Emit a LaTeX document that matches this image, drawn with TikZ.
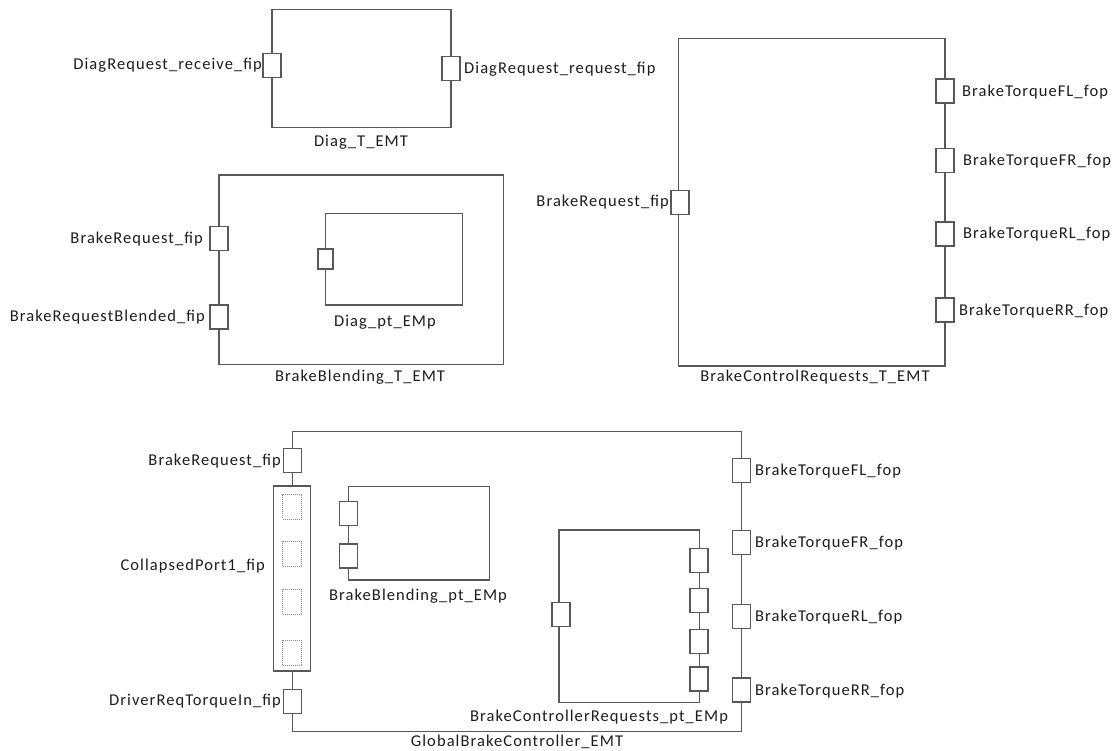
\documentclass[tikz,border=0pt]{standalone}
\usepackage{fontspec}
\setmainfont{Carlito}[LetterSpace=6.5]
\definecolor{lc}{RGB}{88,88,88}
\definecolor{tc}{RGB}{28,28,28}
\begin{document}
\begin{tikzpicture}[x=1pt,y=-1pt,
  box/.style={draw=lc, line width=1.5pt, inner sep=0pt, fill=none},
  port/.style={draw=lc, line width=1.5pt, fill=white, inner sep=0pt, minimum width=18pt, minimum height=24pt},
  sport/.style={port, minimum width=15pt, minimum height=20pt},
  dport/.style={draw=lc!70, densely dotted, line width=1pt, inner sep=0pt, minimum width=19pt, minimum height=25pt},
  lbl/.style={inner sep=1pt, text=tc, font=\fontsize{16.5}{19}\selectfont}
]
\useasboundingbox (0,0) rectangle (1115,751);

% Diag_T_EMT
\node[box, minimum width=179pt, minimum height=118.4pt] (diag) at (361.5,68.5) {};
\node[port] (diagIn) at (272,65.5) {};
\node[port] (diagOut) at (451,68.3) {};
\node[lbl, anchor=east] (diagInL) at (263,65.5) {DiagRequest\_receive\_fip};
\node[lbl, anchor=west] (diagOutL) at (463,69) {DiagRequest\_request\_fip};
\node[lbl] (diagL) at (361,142) {Diag\_T\_EMT};

% BrakeBlending_T_EMT
\node[box, minimum width=284.3pt, minimum height=189.3pt] (bb) at (361.2,269.7) {};
\node[port] (bbIn1) at (219,238.5) {};
\node[port] (bbIn2) at (219,317.2) {};
\node[lbl, anchor=east] (bbIn1L) at (204,239.5) {BrakeRequest\_fip};
\node[lbl, anchor=east] (bbIn2L) at (206,317.5) {BrakeRequestBlended\_fip};
\node[box, minimum width=137.4pt, minimum height=91.7pt] (diagpt) at (394,259.2) {};
\node[sport] (diagptIn) at (325.5,259.2) {};
\node[lbl] (diagptL) at (385,322) {Diag\_pt\_EMp};
\node[lbl] (bbL) at (360,377) {BrakeBlending\_T\_EMT};

% BrakeControlRequests_T_EMT
\node[box, minimum width=266.7pt, minimum height=327.7pt] (bcr) at (811.7,202.2) {};
\node[port] (bcrIn) at (680,202.3) {};
\node[port] (bcrFL) at (945,91) {};
\node[port] (bcrFR) at (945,160.3) {};
\node[port] (bcrRL) at (945,234) {};
\node[port] (bcrRR) at (945,310.2) {};
\node[lbl, anchor=east] (bcrInL) at (670,202) {BrakeRequest\_fip};
\node[lbl, anchor=west] (bcrFLL) at (961,92) {BrakeTorqueFL\_fop};
\node[lbl, anchor=west] (bcrFRL) at (962,161) {BrakeTorqueFR\_fop};
\node[lbl, anchor=west] (bcrRLL) at (962,234.5) {BrakeTorqueRL\_fop};
\node[lbl, anchor=west] (bcrRRL) at (958,311) {BrakeTorqueRR\_fop};
\node[lbl] (bcrL) at (815,377) {BrakeControlRequests\_T\_EMT};

% GlobalBrakeController_EMT
\node[box, minimum width=449.4pt, minimum height=300pt] (gbc) at (517,581.7) {};
\node[port] (gIn) at (292.3,460.7) {};
\node[port] (gDrv) at (292.3,701.3) {};
\node[draw=lc, line width=1.5pt, fill=white, inner sep=0pt, minimum width=37.4pt, minimum height=185pt] (gCol) at (292,578.5) {};
\node[dport] (gCol1) at (292.3,506.5) {};
\node[dport] (gCol2) at (292.3,554.3) {};
\node[dport] (gCol3) at (292.3,602.2) {};
\node[dport] (gCol4) at (292.3,653.2) {};
\node[lbl, anchor=east] (gInL) at (282,461) {BrakeRequest\_fip};
\node[lbl, anchor=east] (gColL) at (266,566) {CollapsedPort1\_fip};
\node[lbl, anchor=east] (gDrvL) at (282,701) {DriverReqTorqueIn\_fip};

\node[box, minimum width=141pt, minimum height=93.3pt] (bbpt) at (418.8,533.3) {};
\node[port] (bbpt1) at (348.5,513.5) {};
\node[port] (bbpt2) at (348.5,555.8) {};
\node[lbl] (bbptL) at (418,596) {BrakeBlending\_pt\_EMp};

\node[box, minimum width=140.3pt, minimum height=172.7pt] (bcrpt) at (629.2,616.3) {};
\node[port] (bcrptIn) at (561,614.3) {};
\node[port] (bcrpt1) at (699.2,560.5) {};
\node[port] (bcrpt2) at (699.2,600.3) {};
\node[port] (bcrpt3) at (699.2,641.7) {};
\node[port] (bcrpt4) at (699.2,679.2) {};
\node[lbl] (bcrptL) at (599,717) {BrakeControllerRequests\_pt\_EMp};

\node[port] (gFL) at (741.7,470.3) {};
\node[port] (gFR) at (741.7,542.7) {};
\node[port] (gRL) at (741.7,616.7) {};
\node[port] (gRR) at (741.7,690) {};
\node[lbl, anchor=west] (gFLL) at (754,471) {BrakeTorqueFL\_fop};
\node[lbl, anchor=west] (gFRL) at (754,543) {BrakeTorqueFR\_fop};
\node[lbl, anchor=west] (gRLL) at (754,617.5) {BrakeTorqueRL\_fop};
\node[lbl, anchor=west] (gRRL) at (754,691) {BrakeTorqueRR\_fop};
\node[lbl] (gbcL) at (517,742) {GlobalBrakeController\_EMT};
\end{tikzpicture}
\end{document}
